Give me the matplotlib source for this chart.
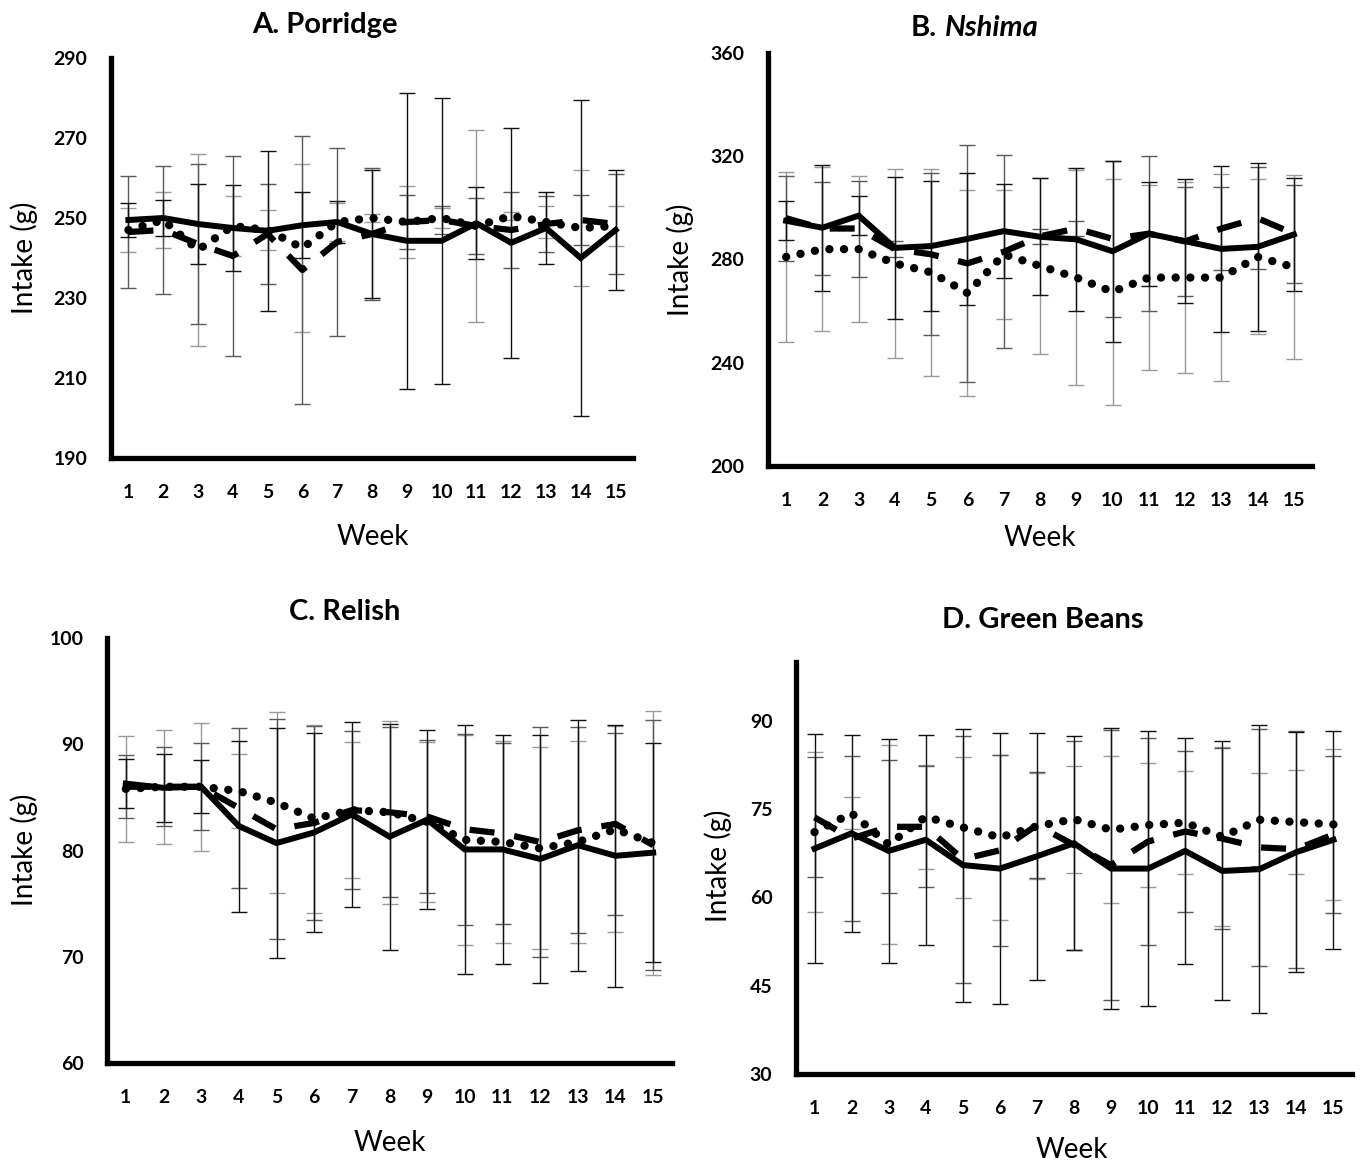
import numpy as np
import matplotlib
matplotlib.use('Agg')
import matplotlib.pyplot as plt

plt.rcParams['font.family'] = ['Lato', 'DejaVu Sans']

weeks = list(range(1, 16))

# A. Porridge
porridge_solid = [249.5, 250, 248.5, 247.5, 246.8, 248.2, 249, 246, 244.3, 244.3, 248.7, 243.8, 247.5, 240, 247]
porridge_dash = [246.5, 247, 243.5, 240.5, 246, 237, 244, 246, 249, 249.5, 248, 247, 248.5, 249.5, 248.5]
porridge_dot = [247, 249.5, 242, 248, 247, 242.5, 249, 250, 249, 250, 248, 250.5, 249, 247.5, 248]
porridge_solid_sd = [4.2, 4.5, 9.9, 10.7, 20, 8.2, 5.3, 16, 37, 35.7, 9, 28.7, 9, 39.5, 15]
porridge_dash_sd = [14, 16, 20, 25, 12.4, 33.5, 23.6, 16.4, 6.8, 3.5, 7, 9.4, 7, 6.2, 12.4]
porridge_dot_sd = [5.6, 7, 24, 7.5, 5, 21, 4.8, 1, 9, 2.5, 24, 1, 4, 14.5, 5]

# B. Nshima
nshima_solid = [295, 292.3, 297, 284.5, 285.2, 288, 291, 288.8, 287.8, 283.2, 290, 287.1, 284.1, 284.9, 289.7]
nshima_dash = [296, 292, 292, 284, 282, 278.5, 283, 289, 292, 288, 290, 287, 292, 296, 290]
nshima_dot = [281, 284, 284, 278.5, 275, 267, 282, 277.5, 273, 267.5, 273, 273, 273, 281, 277]
nshima_solid_sd = [7.6, 24.5, 7.5, 27.5, 25.3, 25.6, 18.3, 22.7, 27.6, 35, 20.2, 24, 32, 32.6, 22]
nshima_dash_sd = [16.4, 18.1, 18.6, 3, 31.4, 46, 37.4, 3, 3, 30.3, 30, 21, 16, 19.7, 19]
nshima_dot_sd = [33, 31.75, 28.2, 36.5, 40, 40, 25, 34, 41.5, 43.8, 36, 37, 40, 30, 35.7]

# C. Relish
relish_solid = [86.3, 85.9, 86.0, 82.3, 80.7, 81.7, 83.4, 81.3, 82.9, 80.1, 80.1, 79.2, 80.5, 79.5, 79.8]
relish_dash = [86, 86, 86, 84, 82, 82.6, 83.8, 83.6, 83.2, 82, 81.6, 80.8, 81.9, 82.5, 80.5]
relish_dot = [85.8, 86, 86, 85.6, 84.5, 83, 83.8, 83.6, 82.7, 81, 80.8, 80.2, 80.8, 82, 80.7]
relish_solid_sd = [2.3, 3.2, 2.5, 8.05, 10.85, 9.4, 8.74, 10.65, 8.4, 11.7, 10.8, 11.7, 11.8, 12.35, 10.3]
relish_dash_sd = [2.95, 3.7, 4.1, 7.5, 10.35, 9.1, 7.45, 8.0, 7.2, 9.0, 8.5, 10.8, 9.7, 8.6, 11.75]
relish_dot_sd = [5, 5.35, 6, 3.5, 8.5, 8.84, 6.4, 8.6, 7.5, 9.85, 9.5, 9.5, 9.5, 9.7, 12.4]

# D. Green Beans
beans_solid = [68.3, 70.9, 67.9, 69.8, 65.5, 64.9, 67.0, 69.2, 64.9, 64.9, 67.9, 64.5, 64.8, 67.7, 69.8]
beans_dash = [73.6, 70, 72, 72, 66.5, 68, 72.3, 68.9, 65.5, 69.5, 71.2, 70, 68.5, 68.2, 70.7]
beans_dot = [71.1, 74.3, 69, 73.7, 71.9, 70.2, 72.1, 73.3, 71.5, 72.3, 72.7, 70.3, 73.2, 72.8, 72.4]
beans_solid_sd = [19.5, 16.75, 19, 17.85, 23.2, 23, 21, 18.2, 23.9, 23.35, 19.15, 22, 24.45, 20.4, 18.55]
beans_dash_sd = [10.2, 14, 11.3, 10.3, 21, 16.2, 9, 17.75, 23, 17.55, 13.67, 15.4, 20.2, 20.15, 13.4]
beans_dot_sd = [13.6, 2.7, 16.9, 8.8, 12, 14, 9, 9.1, 12.45, 10.47, 8.8, 15.2, 7.9, 8.9, 12.8]

W, H = 1360, 1167
fig = plt.figure(figsize=(W / 100, H / 100), dpi=100)


def box(x0, x1, ytop, ybot):
    return [x0 / W, 1 - ybot / H, (x1 - x0) / W, (ybot - ytop) / H]


def panel(rect, solid, dash, dot, ssd, dsd, tsd, ylim, yticks):
    ax = fig.add_axes(rect)
    for m, s, c in [(dot, tsd, '#9a9a9a'), (dash, dsd, '#5a5a5a'), (solid, ssd, '#111111')]:
        ax.errorbar(weeks, m, yerr=s, fmt='none', ecolor=c, elinewidth=1.0,
                    capsize=5.5, capthick=1.0, zorder=2)
    ax.plot(weeks, dash, color='black', lw=4.5, linestyle=(0, (4.0, 3.2)),
            dash_capstyle='butt', zorder=4)
    ax.plot(weeks, dot, color='black', lw=6, linestyle=(0, (0.01, 1.75)),
            dash_capstyle='round', zorder=5)
    ax.plot(weeks, solid, color='black', lw=4.3, solid_joinstyle='miter', zorder=6)
    ax.set_xlim(0.5, 15.5)
    ax.set_ylim(*ylim)
    ax.set_xticks(weeks)
    ax.set_yticks(yticks)
    ax.tick_params(length=0, labelsize=14)
    ax.tick_params(axis='x', pad=19)
    ax.tick_params(axis='y', pad=17)
    for lab in ax.get_xticklabels() + ax.get_yticklabels():
        lab.set_fontweight('bold')
    for side in ['top', 'right']:
        ax.spines[side].set_visible(False)
    for side in ['left', 'bottom']:
        ax.spines[side].set_linewidth(3.8)
    return ax


panel(box(111, 633, 58, 458), porridge_solid, porridge_dash, porridge_dot,
      porridge_solid_sd, porridge_dash_sd, porridge_dot_sd, (190, 290), [190, 210, 230, 250, 270, 290])
panel(box(768, 1312, 53, 466), nshima_solid, nshima_dash, nshima_dot,
      nshima_solid_sd, nshima_dash_sd, nshima_dot_sd, (200, 360), [200, 240, 280, 320, 360])
panel(box(107, 672, 638, 1063), relish_solid, relish_dash, relish_dot,
      relish_solid_sd, relish_dash_sd, relish_dot_sd, (60, 100), [60, 70, 80, 90, 100])
panel(box(796, 1352, 662, 1074), beans_solid, beans_dash, beans_dot,
      beans_solid_sd, beans_dash_sd, beans_dot_sd, (30, 100), [30, 45, 60, 75, 90])


def put(x, y, s, **kw):
    fig.text(x / W, 1 - y / H, s, ha=kw.pop('ha', 'center'), va='center', **kw)


# titles
put(325, 25, 'A. Porridge', fontsize=21, fontweight='bold')
put(937, 28, 'B.', fontsize=21, fontweight='bold', ha='right')
put(945, 28, 'Nshima', fontsize=21, fontweight='bold', style='italic', ha='left')
put(345, 612, 'C. Relish', fontsize=21, fontweight='bold')
put(1043, 620, 'D. Green Beans', fontsize=21, fontweight='bold')

# axis labels
for x, y in [(373, 537), (1040, 538), (390, 1143), (1072, 1150)]:
    put(x, y, 'Week', fontsize=20)
for x, y in [(24, 258), (680, 260), (24, 850), (718, 866)]:
    put(x, y, 'Intake (g)', fontsize=20, rotation=90)

fig.savefig('out.png', dpi=100)
